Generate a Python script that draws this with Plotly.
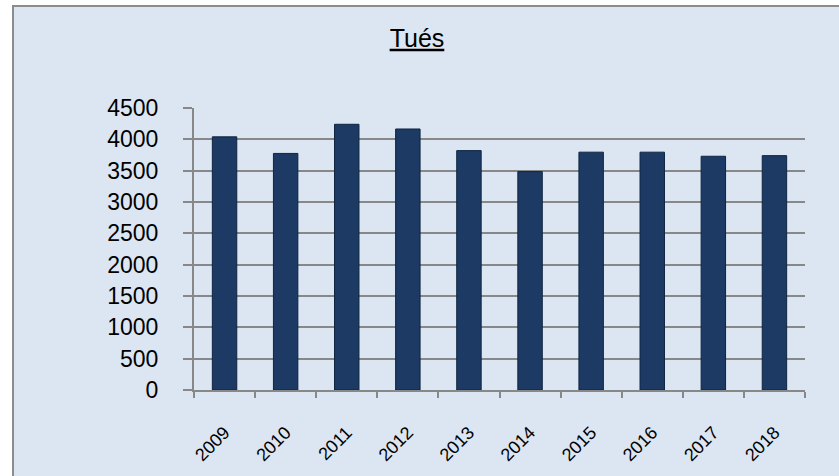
import plotly.graph_objects as go

years = ["2009", "2010", "2011", "2012", "2013", "2014", "2015", "2016", "2017", "2018"]
tues = [4040, 3775, 4240, 4165, 3820, 3485, 3795, 3795, 3730, 3740]
y_ticks = [0, 500, 1000, 1500, 2000, 2500, 3000, 3500, 4000, 4500]

W, H = 839, 476
L, R, T, B = 194, 34, 108, 86
pw, ph = W - L - R, H - T - B

def px_x(p):
    return (p - L) / pw

def px_y(p):
    return (H - B - p) / ph

fig = go.Figure()
fig.add_trace(go.Bar(
    x=years, y=tues,
    marker=dict(color="#1c3a64", line=dict(color="#0f2440", width=1)),
    width=0.4,
))

fig.update_layout(
    width=W, height=H,
    margin=dict(l=L, r=R, t=T, b=B),
    paper_bgcolor="white",
    plot_bgcolor="rgba(0,0,0,0)",
    showlegend=False,
    font=dict(family="Liberation Sans, Arial, sans-serif", color="black"),
    title=dict(text="<u>Tués</u>", x=0.497, xanchor="center", xref="container",
               y=1 - 38 / H, yanchor="middle", yref="container",
               font=dict(size=25, color="black")),
    shapes=[dict(type="rect", xref="paper", yref="paper", layer="below",
                 x0=px_x(13), x1=px_x(W + 60), y0=px_y(H + 60), y1=px_y(6),
                 fillcolor="#dce6f2", line=dict(color="#8c8c8c", width=2))],
    xaxis=dict(type="category", showgrid=False, showline=True, linecolor="#888888", linewidth=2,
               ticks="outside", tickson="boundaries", ticklen=6, tickcolor="#888888", tickwidth=1.5,
               tickangle=-45, tickfont=dict(size=18), ticklabelstandoff=23),
    yaxis=dict(range=[0, 4500], tickvals=y_ticks, showgrid=True, gridcolor="#888888", gridwidth=1.5,
               showline=True, linecolor="#888888", linewidth=2, zeroline=False,
               ticks="outside", ticklen=9, tickcolor="#888888", tickwidth=1.5,
               tickfont=dict(size=23), ticklabelstandoff=20),
    bargap=0.6,
)

fig.write_html("out.html", config={"displayModeBar": False},
               post_script="document.body.style.margin='0px';document.body.style.overflow='hidden';")
